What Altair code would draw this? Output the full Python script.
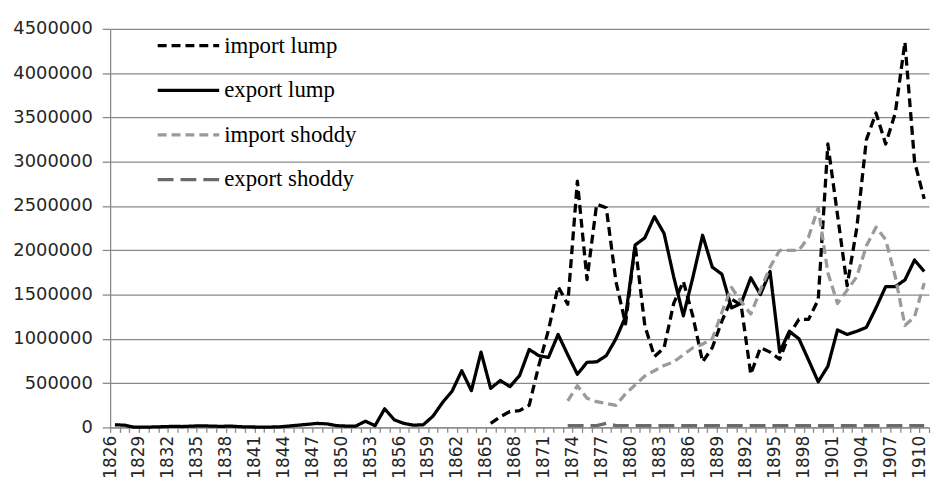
import altair as alt
import pandas as pd

years = list(range(1826, 1911))

# import lump: 1865-1910
import_lump = [None] * 39 + [
    45000, 120000, 180000, 190000, 250000,
    700000, 1100000, 1590000, 1390000, 2780000,
    1670000, 2520000, 2480000, 1650000, 1170000,
    2060000, 1150000, 800000, 900000, 1400000,
    1650000, 1250000, 740000, 900000, 1200000,
    1450000, 1380000, 600000, 900000, 850000,
    770000, 1050000, 1220000, 1220000, 1440000,
    3200000, 2400000, 1600000, 2250000, 3250000,
    3550000, 3200000, 3550000, 4350000, 3000000,
    2580000,
]

# export lump: 1826-1910
export_lump = [
    30000, 25000, 2000, 3000, 5000, 8000, 12000, 10000, 15000, 18000,
    15000, 12000, 15000, 8000, 5000, 4000, 4000, 6000, 15000, 25000,
    35000, 45000, 40000, 20000, 15000, 15000, 70000, 20000, 210000, 85000,
    45000, 25000, 30000, 125000, 280000, 410000, 640000, 415000, 850000, 440000,
    530000, 460000, 585000, 880000, 810000, 790000, 1050000, 820000, 600000, 735000,
    740000, 810000, 1000000, 1250000, 2060000, 2140000, 2380000, 2190000, 1700000, 1260000,
    1700000, 2170000, 1810000, 1730000, 1350000, 1400000, 1690000, 1500000, 1760000, 850000,
    1085000, 1000000, 760000, 515000, 690000, 1100000, 1050000, 1085000, 1130000, 1350000,
    1590000, 1590000, 1665000, 1890000, 1760000,
]

# import shoddy: 1873-1910
import_shoddy = [None] * 47 + [
    300000, 470000, 330000, 290000, 270000, 250000,
    380000, 480000, 580000, 640000, 700000,
    740000, 820000, 900000, 940000, 1000000,
    1300000, 1580000, 1420000, 1280000, 1550000,
    1810000, 2000000, 2000000, 2000000, 2150000,
    2480000, 1745000, 1400000, 1550000, 1700000,
    2050000, 2260000, 2120000, 1700000, 1150000,
    1250000, 1630000,
]

# export shoddy: 1873-1910
export_shoddy = [None] * 47 + [
    20000, 20000, 20000, 20000, 45000, 20000,
    20000, 20000, 20000, 20000, 20000,
    20000, 20000, 20000, 20000, 20000,
    20000, 20000, 20000, 20000, 20000,
    20000, 20000, 20000, 20000, 20000,
    20000, 20000, 20000, 20000, 20000,
    20000, 20000, 20000, 20000, 20000,
    20000, 20000,
]

series_names = ["import lump", "export lump", "import shoddy", "export shoddy"]
series_values = [import_lump, export_lump, import_shoddy, export_shoddy]

rows = []
for name, vals in zip(series_names, series_values):
    for y, v in zip(years, vals):
        if v is not None:
            rows.append({"year": y, "value": v, "series": name})
df = pd.DataFrame(rows)

y_ticks = list(range(0, 4500001, 500000))
x_bounds = [y - 0.5 for y in years] + [years[-1] + 0.5]

grid_col = "#8a8a8a"
label_col = "#262626"

legend = alt.Legend(
    title=None,
    orient="none",
    legendX=46,
    legendY=-16,
    symbolType="stroke",
    symbolSize=3844,
    labelFont="Liberation Serif",
    labelFontSize=23,
    labelColor="black",
    labelOffset=3,
    rowPadding=0,
    padding=0,
)

chart = (
    alt.Chart(df)
    .mark_line(strokeJoin="round")
    .encode(
        x=alt.X(
            "year:Q",
            scale=alt.Scale(domain=[1825.5, 1910.5], nice=False, zero=False),
            axis=alt.Axis(
                values=x_bounds,
                labelExpr="((datum.value + 0.5 - 1826) % 3 == 0) && datum.value < 1910 ? toString(datum.value + 0.5) : ''",
                labelAngle=270,
                labelAlign="right",
                labelBaseline="middle",
                labelFont="DejaVu Sans",
                labelFontSize=17,
                labelColor=label_col,
                labelPadding=3,
                labelOverlap=False,
                labelFlush=False,
                tickSize=5,
                tickColor=grid_col,
                tickWidth=1.3,
                domainColor=grid_col,
                domainWidth=1.3,
                grid=False,
                title=None,
            ),
        ),
        y=alt.Y(
            "value:Q",
            scale=alt.Scale(domain=[0, 4500000], nice=False),
            axis=alt.Axis(
                values=y_ticks,
                format="d",
                labelFont="DejaVu Sans",
                labelFontSize=18,
                labelColor=label_col,
                labelPadding=10,
                tickSize=8,
                tickColor=grid_col,
                tickWidth=1.3,
                domainColor=grid_col,
                domainWidth=1.3,
                grid=True,
                gridColor=grid_col,
                gridWidth=1.3,
                title=None,
            ),
        ),
        color=alt.Color(
            "series:N",
            sort=series_names,
            scale=alt.Scale(domain=series_names, range=["#000000", "#000000", "#9a9a9a", "#6a6a6a"]),
            legend=legend,
        ),
        strokeDash=alt.StrokeDash(
            "series:N",
            sort=series_names,
            scale=alt.Scale(domain=series_names, range=[[9, 5], [1, 0], [9, 5], [16, 7]]),
            legend=legend,
        ),
        strokeWidth=alt.StrokeWidth(
            "series:N",
            sort=series_names,
            scale=alt.Scale(domain=series_names, range=[3.3, 3.3, 3.3, 4.8]),
            legend=legend,
        ),
    )
    .properties(
        width=826,
        height=402,
        padding={"left": 103, "top": 19, "right": 2, "bottom": 51},
        autosize=alt.AutoSizeParams(type="none"),
        background="white",
    )
    .configure_view(stroke=None)
)

chart.save("out.html", embed_options={"renderer": "svg", "actions": False})
